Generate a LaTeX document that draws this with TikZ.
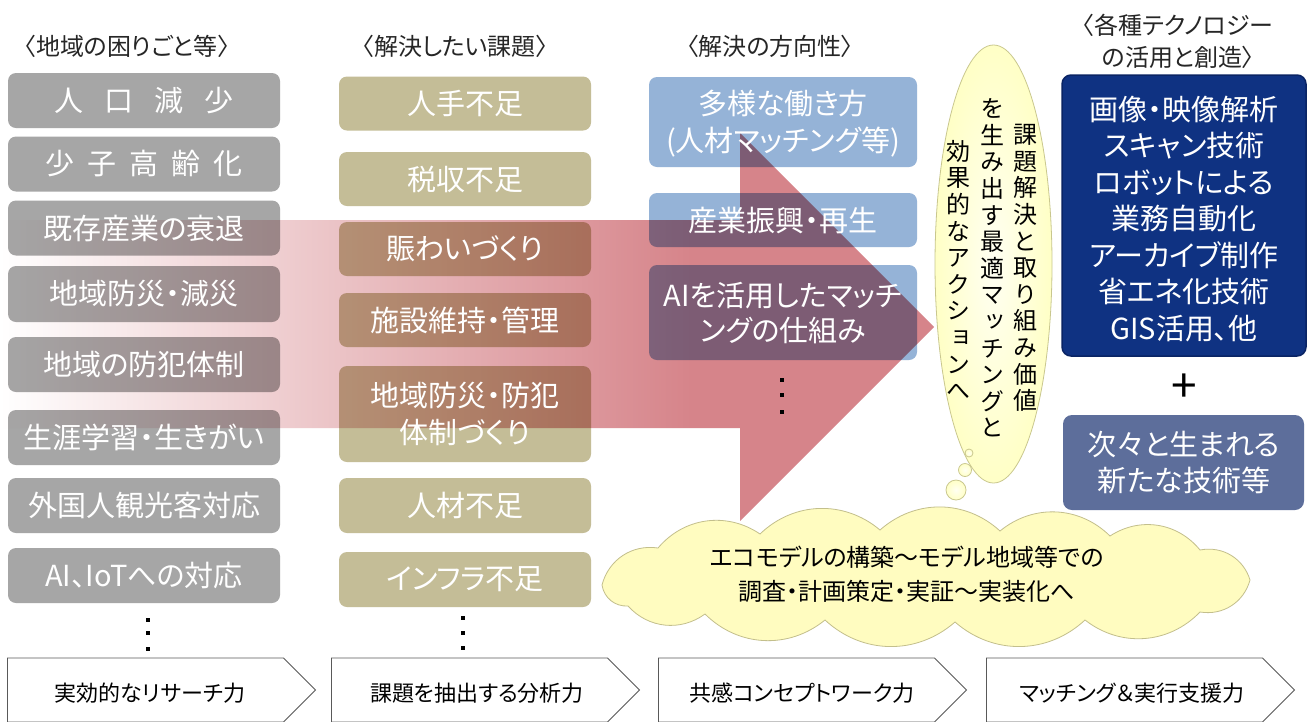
\documentclass[tikz,border=0pt]{standalone}
\usepackage{fontspec}
\setmainfont{Noto Sans CJK JP}[RawFeature=+palt]
\newfontfamily\vjp{Noto Sans CJK JP}[RawFeature=+vert]
\usetikzlibrary{shapes.geometric,shapes.symbols}
\definecolor{gbox}{HTML}{A6A6A6}
\definecolor{tbox}{HTML}{C4BD97}
\definecolor{lbox}{HTML}{95B3D7}
\definecolor{navybox}{HTML}{0F3282}
\definecolor{navyline}{HTML}{0A2464}
\definecolor{slatebox}{HTML}{5D6E9B}
\definecolor{arrowred}{RGB}{214,132,138}
\definecolor{bubblein}{HTML}{FFFFF2}
\definecolor{bubbleout}{HTML}{FFFFC6}
\definecolor{bubbleline}{HTML}{C9C78E}
\definecolor{cloudfill}{HTML}{FFFCC0}
\definecolor{cloudline}{HTML}{C3BF8C}
\definecolor{chevline}{HTML}{595959}
\definecolor{hdrtext}{HTML}{262626}
\pgfdeclarehorizontalshading{arrowshade}{100bp}{color(0bp)=(white); color(25bp)=(white); color(62bp)=(arrowred); color(100bp)=(arrowred)}
\tikzset{
  cbox/.style={rectangle, rounded corners=8pt, minimum height=54pt, inner sep=0pt},
  graybox/.style={cbox, fill=gbox, minimum width=272pt},
  tanbox/.style={cbox, fill=tbox, minimum width=252pt},
  bluebox/.style={cbox, fill=lbox, minimum width=268pt},
  wtext/.style={text=white, font=\fontsize{29}{37}\selectfont, align=center, inner sep=0pt},
  hdr/.style={text=hdrtext, font=\fontsize{24}{32}\selectfont, align=center, inner sep=0pt},
  vtext/.style={text=black, font={\vjp\fontsize{24}{26.6}\selectfont}, align=center, inner sep=0pt},
  chev/.style={signal, signal to=east, signal from=nowhere, signal pointer angle=90, draw=chevline, line width=0.9pt, fill=white, minimum width=308pt, minimum height=64pt, inner sep=0pt, anchor=west},
  chevtext/.style={text=black, font=\fontsize{22}{26}\selectfont, inner sep=0pt},
  dotsq/.style={fill=black},
  minibub/.style={circle, draw=bubbleline, line width=0.8pt, inner color=bubblein, outer color=bubbleout, inner sep=0pt},
  cloudst/.style={draw=cloudline, line width=0.8pt, fill=cloudfill},
  puff/.style={bend left=42}
}
\begin{document}
\begin{tikzpicture}[x=1pt,y=-1pt]
\useasboundingbox[fill=white] (0,0) rectangle (1311,721);

% column 1 boxes
\node[graybox, minimum height=55pt] (g1) at (144,100.5) {};
\node[graybox, minimum height=55pt] (g2) at (144,164) {};
\node[graybox, minimum height=55pt] (g3) at (144,228) {};
\node[graybox, minimum height=56pt] (g4) at (144,294) {};
\node[graybox, minimum height=55pt] (g5) at (144,364.5) {};
\node[graybox, minimum height=55pt] (g6) at (144,437.5) {};
\node[graybox, minimum height=55pt] (g7) at (144,505.5) {};
\node[graybox, minimum height=55pt] (g8) at (144,575.5) {};
% column 2 boxes
\node[tanbox] (t1) at (465,103.5) {};
\node[tanbox] (t2) at (465,179) {};
\node[tanbox] (t3) at (465,249) {};
\node[tanbox] (t4) at (465,320) {};
\node[tanbox, minimum height=96pt] (t5) at (465,414) {};
\node[tanbox, minimum height=55pt] (t6) at (465,505.5) {};
\node[tanbox, minimum height=55pt] (t7) at (465,579.5) {};
% column 3 boxes
\node[bluebox, minimum height=90pt] (b1) at (783,122) {};
\node[bluebox] (b2) at (783,220) {};
\node[bluebox, minimum height=95pt] (b3) at (783,312.5) {};

% big arrow
\begin{scope}[blend mode=multiply]
\path[shading=arrowshade] (0,220) -- (740,220) -- (740,133) -- (934,327) -- (740,521) -- (740,428) -- (0,428) -- cycle;
\end{scope}

% texts of columns
\node[wtext] (g1t) at (g1) {人\hspace{0.72em}口\hspace{0.72em}減\hspace{0.72em}少};
\node[wtext] (g2t) at (g2) {少\hspace{0.45em}子\hspace{0.45em}高\hspace{0.45em}齢\hspace{0.45em}化};
\node[wtext] (g3t) at (g3) {既存産業の衰退};
\node[wtext] (g4t) at (g4) {地域防災・減災};
\node[wtext] (g5t) at (g5) {地域の防犯体制};
\node[wtext] (g6t) at (g6) {生涯学習・生きがい};
\node[wtext] (g7t) at (g7) {外国人観光客対応};
\node[wtext] (g8t) at (g8) {AI、IoTへの対応};
\node[wtext] (t1t) at (t1) {人手不足};
\node[wtext] (t2t) at (t2) {税収不足};
\node[wtext] (t3t) at (t3) {賑わいづくり};
\node[wtext] (t4t) at (t4) {施設維持・管理};
\node[wtext] (t5t) at (t5) {地域防災・防犯\\体制づくり};
\node[wtext] (t6t) at (t6) {人材不足};
\node[wtext] (t7t) at (t7) {インフラ不足};
\node[wtext] (b1t) at (783,124) {多様な働き方\\(人材マッチング等)};
\node[wtext] (b2t) at (b2) {産業振興・再生};
\node[wtext, font=\fontsize{29}{35}\selectfont] (b3t) at (783,313) {AIを活用したマッチ\\ングの仕組み};

% vertical dots
\fill[dotsq] (146,618) rectangle (150,622);
\fill[dotsq] (146,631) rectangle (150,635);
\fill[dotsq] (146,647) rectangle (150,651);
\fill[dotsq] (461,616) rectangle (465,620);
\fill[dotsq] (461,631) rectangle (465,635);
\fill[dotsq] (461,646) rectangle (465,650);
\fill[dotsq] (780,378) rectangle (784,382);
\fill[dotsq] (780,393) rectangle (784,397);
\fill[dotsq] (780,410) rectangle (784,414);

% thought bubble
\node[ellipse, draw=bubbleline, line width=0.8pt, inner color=bubblein, outer color=bubbleout, minimum width=117pt, minimum height=438pt, inner sep=0pt] (bubble) at (993.5,264) {};
\node[minibub, minimum size=8pt] (mb1) at (969,453) {};
\node[minibub, minimum size=13pt] (mb2) at (965,470) {};
\node[minibub, minimum size=20pt] (mb3) at (956,490) {};
\node[vtext] (v1) at (1025,268) {課\\題\\解\\決\\と\\取\\り\\組\\み\\価\\値};
\node[vtext] (v2) at (992,268) {を\\生\\み\\出\\す\\最\\適\\マ\\ッ\\チ\\ン\\グ\\と};
\node[vtext] (v3) at (958,270) {効\\果\\的\\な\\ア\\ク\\シ\\ョ\\ン\\へ};

% technology boxes
\node[rectangle, rounded corners=9pt, fill=navybox, draw=navyline, line width=1.5pt, minimum width=244pt, minimum height=281pt, inner sep=0pt] (tech) at (1184,215.5) {};
\node[wtext, font=\fontsize{29}{36.5}\selectfont] (techt) at (1184,219) {画像・映像解析\\スキャン技術\\ロボットによる\\業務自動化\\アーカイブ制作\\省エネ化技術\\GIS活用、他};
\node[text=black, font=\fontsize{46}{46}\selectfont, inner sep=0pt] (plus) at (1184,388) {+};
\node[rectangle, rounded corners=9pt, fill=slatebox, minimum width=241pt, minimum height=95pt, inner sep=0pt] (newtech) at (1183.5,462.5) {};
\node[wtext, font=\fontsize{29}{36}\selectfont] (newtecht) at (1184,463) {次々と生まれる\\新たな技術等};

% cloud
\path[cloudst] (602,585) to[puff] (658,548) to[puff] (760,534) to[puff] (880,530)
  to[puff] (1000,531) to[puff] (1110,536) to[puff] (1200,550) to[puff] (1250,580)
  to[puff] (1200,612) to[puff] (1085,620) to[puff] (955,622) to[puff] (825,620)
  to[puff] (705,614) to[puff] (628,606) to[puff] cycle;
\node[text=black, font=\fontsize{24}{34}\selectfont, align=center, inner sep=0pt] (cloudt) at (907,574) {エコモデルの構築～モデル地域等での\\調査・計画策定・実証～実装化へ};

% chevrons
\node[chev] (c1) at (7,690) {};
\node[chev] (c2) at (331,690) {};
\node[chev] (c3) at (658,690) {};
\node[chev] (c4) at (986,690) {};
\node[chevtext] (c1t) at (150,693) {実効的なリサーチ力};
\node[chevtext] (c2t) at (477,693) {課題を抽出する分析力};
\node[chevtext] (c3t) at (802,693) {共感コンセプトワーク力};
\node[chevtext] (c4t) at (1132,693) {マッチング＆実行支援力};

% headers
\node[hdr] (h1) at (127,46) {〈地域の困りごと等〉};
\node[hdr] (h2) at (455,46) {〈解決したい課題〉};
\node[hdr] (h3) at (770,46) {〈解決の方向性〉};
\node[hdr] (h4) at (1178,41) {〈各種テクノロジー\\の活用と創造〉};
\end{tikzpicture}
\end{document}
